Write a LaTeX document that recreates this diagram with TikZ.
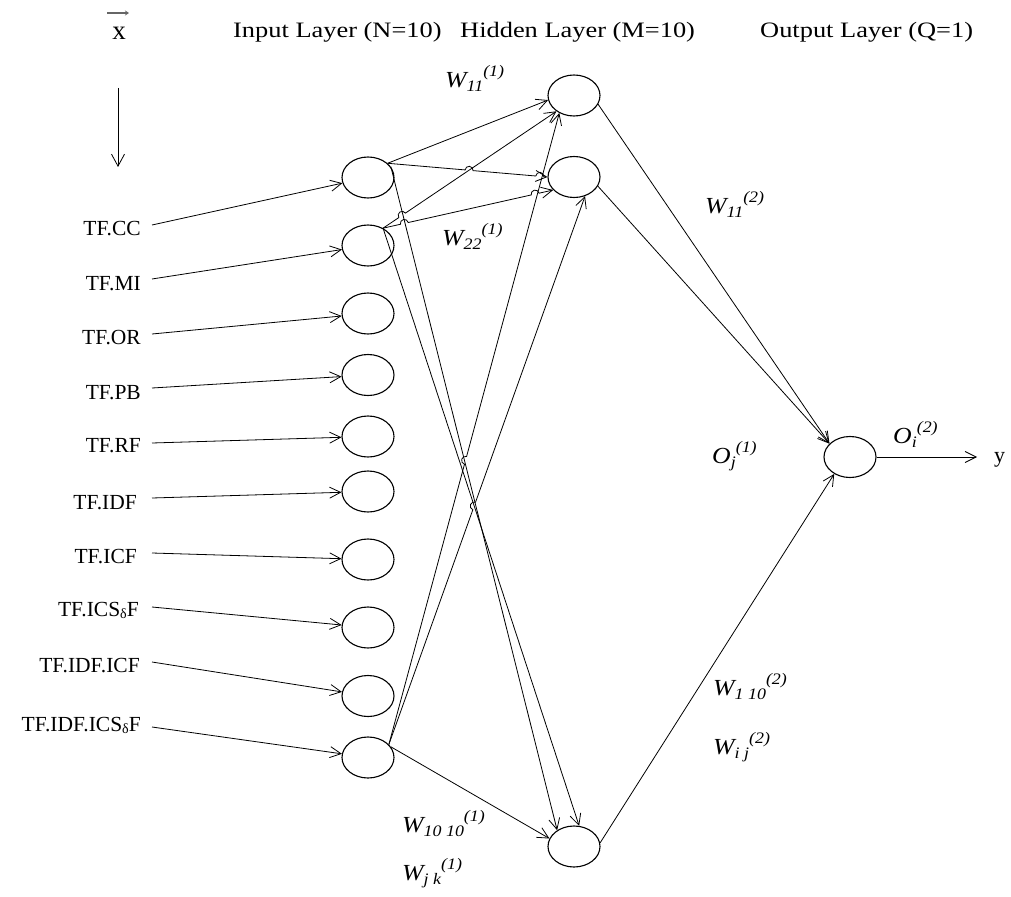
\documentclass[tikz,border=0pt]{standalone}
\usepackage{graphicx}
\usepackage{fontspec}
\setmainfont{Liberation Serif}
\usetikzlibrary{shapes.geometric,arrows.meta,calc}
\newcommand\wlab[3]{\scalebox{1.12}[1]{\fontsize{23}{23}\selectfont\itshape #1\raisebox{-4pt}{\fontsize{16}{16}\selectfont #2}\raisebox{11pt}{\fontsize{16}{16}\selectfont (#3)}}}
\newcommand\hdr[1]{\scalebox{1.2}[1]{\fontsize{22}{22}\selectfont #1}}
\newcommand\dlt{\raisebox{-2pt}{\fontsize{14}{14}\selectfont δ}}
% connector with one hop
\newcommand\hopone[3]{%
  \draw[arr] let \p1=($(#2)-(#1)$), \n1={atan2(\y1,\x1)} in
    (#1) -- ($(#1)!#3!(#2)+(\n1+180:4pt)$)
    arc[start angle=\n1+180, delta angle=-180, radius=4pt] -- (#2);}
% connector with two hops
\newcommand\hoptwo[4]{%
  \draw[arr] let \p1=($(#2)-(#1)$), \n1={atan2(\y1,\x1)} in
    (#1) -- ($(#1)!#3!(#2)+(\n1+180:4pt)$)
    arc[start angle=\n1+180, delta angle=-180, radius=4pt]
    -- ($(#1)!#4!(#2)+(\n1+180:4pt)$)
    arc[start angle=\n1+180, delta angle=-180, radius=4pt] -- (#2);}
\begin{document}
\begin{tikzpicture}[x=1pt,y=-1pt,
  neuron/.style={draw, ellipse, minimum width=52pt, minimum height=41pt, inner sep=0pt, line width=1.1pt},
  arr/.style={-{Straight Barb[length=11pt,width=11pt]}, line width=0.8pt},
  lbl/.style={inner sep=0pt, anchor=base west},
  tf/.style={inner sep=0pt, anchor=base east, font=\fontsize{21.5}{21.5}\selectfont}]
\useasboundingbox (0,0) rectangle (1011,896);

% headers
\node[lbl] (hin) at (233,38) {\hdr{Input Layer (N=10)}};
\node[lbl] (hhid) at (460,38) {\hdr{Hidden Layer (M=10)}};
\node[lbl] (hout) at (760,38) {\hdr{Output Layer (Q=1)}};

% vector x
\node[inner sep=0pt, anchor=base] (xv) at (119,40) {\fontsize{27}{27}\selectfont x};
\coordinate (va) at (107,13);
\coordinate (vb) at (129,13);
\draw[-{Stealth[length=4pt,width=5pt]}, line width=1.2pt, gray!80!black] (va) -- (vb);
\coordinate (xa) at (118,88);
\coordinate (xb) at (118,167);
\draw[-{Straight Barb[length=12pt,width=13pt]}, line width=0.8pt] (xa) -- (xb);

% input layer
\foreach \n/\y in {1/177.5, 2/245.5, 3/313.5, 4/375, 5/436.5, 6/491.5, 7/559.5, 8/627.5, 9/696, 10/757.5}
  \node[neuron] (i\n) at (368,\y) {};

% input labels
\node[tf] (t1) at (141,235) {TF.CC};
\node[tf] (t2) at (141,290) {TF.MI};
\node[tf] (t3) at (141,344) {TF.OR};
\node[tf] (t4) at (141,399) {TF.PB};
\node[tf] (t5) at (141,452) {TF.RF};
\node[tf] (t6) at (137,509) {TF.IDF};
\node[tf] (t7) at (137,563) {TF.ICF};
\node[tf] (t8) at (139,616) {TF.ICS\dlt F};
\node[tf] (t9) at (140,672) {TF.IDF.ICF};
\node[tf] (t10) at (141,731) {TF.IDF.ICS\dlt F};

\foreach \n/\y in {1/225, 2/279, 3/334, 4/388, 5/443, 6/498, 7/553, 8/607, 9/662, 10/727}
  \coordinate (c\n) at (152,\y);
\foreach \n in {1,...,10}
  \draw[arr] (c\n) -- (i\n);

% hidden layer
\node[neuron] (h1) at (574,95.5) {};
\node[neuron] (h2) at (574,177) {};
\node[neuron] (h10) at (574,846.5) {};

% output
\node[neuron] (o) at (850,457) {};
\coordinate (yend) at (977,457);
\node[lbl] (ylab) at (994,462) {\fontsize{22}{22}\selectfont y};

% input -> hidden
\draw[arr] (i1.36) -- (h1.190);
\hoptwo{i1.36}{h2.180}{0.51}{0.952}
\hopone{i2.49}{h1.222}{0.11}
\hoptwo{i2.49}{h2.212}{0.125}{0.894}
\draw[arr] (i1.25) -- (h10.136);
\draw[arr] (i2.49) -- (h10.76);
\hopone{i10.32}{h1.230}{0.45}
\hopone{i10.32}{h2.300}{0.435}
\draw[arr] (i10.25) -- (h10.162);

% hidden -> output
\draw[arr] (h1.-20) -- (o.147);
\draw[arr] (h2.-21) -- (o.147);
\draw[arr] (h10.8) -- (o.227);
\draw[arr] (o.east) -- (yend);

% weight labels
\node[lbl] (w11a) at (445,88) {\wlab{W}{11}{1}};
\node[lbl] (w22a) at (442,245) {\wlab{W}{22}{1}};
\node[lbl] (w11b) at (705,213) {\wlab{W}{11}{2}};
\node[lbl] (oj) at (712,463) {\wlab{O}{j}{1}};
\node[lbl] (oi) at (893,443) {\wlab{O}{i}{2}};
\node[lbl] (w110) at (713,695) {\wlab{W}{1\hspace{4pt}10}{2}};
\node[lbl] (wij) at (713,754) {\wlab{W}{i j}{2}};
\node[lbl] (w1010) at (402,832) {\wlab{W}{10\hspace{4pt}10}{1}};
\node[lbl] (wjk) at (402,880) {\wlab{W}{j k}{1}};
\end{tikzpicture}
\end{document}
